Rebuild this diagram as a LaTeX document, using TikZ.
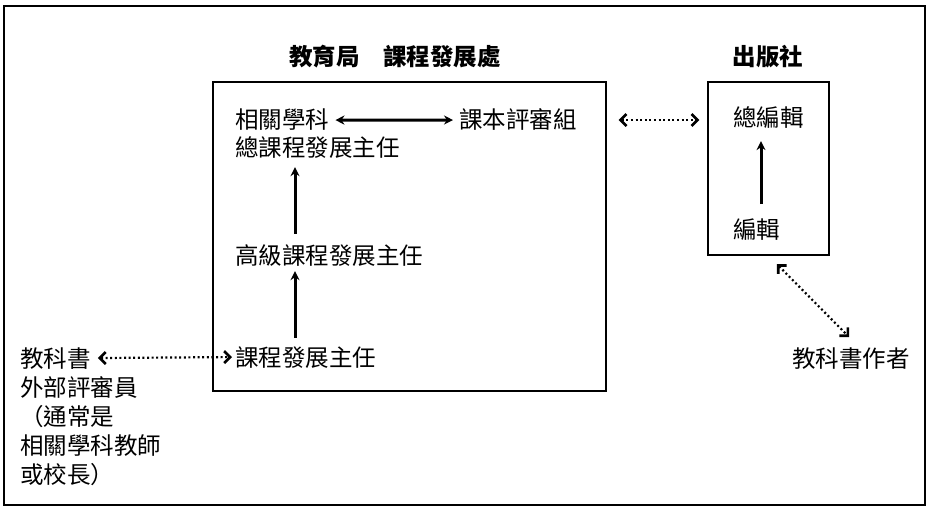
\documentclass[tikz,border=0pt]{standalone}
\usepackage{fontspec}
\newfontfamily\cjk{Noto Sans CJK TC}
\usetikzlibrary{positioning,calc,arrows.meta}
\tikzset{
	txt/.style={font=\cjk\fontsize{23.5}{29}\selectfont,inner sep=0pt,anchor=base west},
	ttl/.style={font=\cjk\bfseries\fontsize{23.5}{29}\selectfont,inner sep=0pt},
	solidarr/.style={line width=3pt,-{Stealth[length=9pt,width=9pt]}},
	dotarr/.style={line width=2.2pt,dash pattern=on 2pt off 2.6pt,{Straight Barb[length=6pt,width=12pt,line width=2.6pt]}-{Straight Barb[length=6pt,width=12pt,line width=2.6pt]}},
}
\begin{document}
\begin{tikzpicture}[x=1pt,y=-1pt]
			\useasboundingbox (0,0) rectangle (934,513);
			\draw[line width=1.5pt] (4,6) rectangle (925,505);
			\node[draw,line width=1.3pt,minimum width=393,minimum height=309] (edbbox) at (409.5,236.5) {};
			\node[draw,line width=1.3pt,minimum width=121,minimum height=173] (pubbox) at (768.5,168.5) {};
			\node[ttl] (edb) at (395,57) {教育局\hspace{1em}課程發展處};
			\node[ttl] (pub) at (768,57) {出版社};
			\node[txt] (subj) at (235,129) {相關學科};
			\node[txt] (chief) at (235,157) {總課程發展主任};
			\node[txt] (panel) at (459,129) {課本評審組};
			\node[txt] (senior) at (235,264) {高級課程發展主任};
			\node[txt] (dev) at (235,366) {課程發展主任};
			\node[txt] (ext) at (20,367) {教科書};
			\node[txt,anchor=north west,align=left] (extnote) at (20,376) {外部評審員\\（通常是\\相關學科教師\\或校長）};
			\node[txt] (chiefed) at (733,127) {總編輯};
			\node[txt] (editor) at (733,238) {編輯};
			\node[txt] (author) at (792,367) {教科書作者};
			\coordinate (colx) at (295,0);
			\coordinate (pcol) at (761,0);
			\draw[solidarr,{Stealth[length=9pt,width=9pt]}-{Stealth[length=9pt,width=9pt]},shorten <=6pt,shorten >=6pt] (subj.east) -- (panel.west);
			\draw[solidarr,shorten <=10pt,shorten >=8pt] (senior.north -| colx) -- (chief.south -| colx);
			\draw[solidarr,shorten <=8pt,shorten >=5pt] (dev.north -| colx) -- (senior.south -| colx);
			\draw[solidarr,shorten <=14pt,shorten >=12pt] (editor.north -| pcol) -- (chiefed.south -| pcol);
			\draw[dotarr,shorten <=7pt,shorten >=3pt] (ext.east) -- (dev.west);
			\draw[dotarr,shorten <=12pt,shorten >=8pt] (edbbox.east |- panel) -- (pubbox.west |- panel);
			\draw[dotarr,shorten <=12pt,shorten >=14pt] (pubbox.south) -- ([xshift=8pt]author.north);
\end{tikzpicture}
\end{document}
